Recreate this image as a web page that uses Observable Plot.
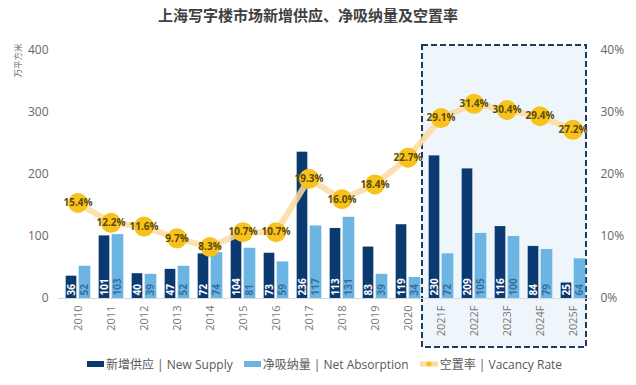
<!DOCTYPE html>
<html><head><meta charset="utf-8">
<script src="https://cdn.jsdelivr.net/npm/d3@7"></script>
<script src="https://cdn.jsdelivr.net/npm/@observablehq/plot@0.6"></script>
<style>
body{margin:0;background:#fff;font-family:"Open Sans","Noto Sans CJK SC",sans-serif;}
#wrap{position:relative;width:636px;height:385px;overflow:hidden;}
#title{position:absolute;left:0;top:0;width:616px;height:30px;line-height:30px;text-align:center;font-family:"Noto Sans CJK SC",sans-serif;font-weight:bold;font-size:15px;color:#404040;}
#chart{position:absolute;left:0;top:30px;}
#legend{position:absolute;left:87px;top:355px;display:flex;align-items:center;font-size:12px;color:#595959;white-space:nowrap;font-family:"Open Sans","Noto Sans CJK SC",sans-serif;}
#legend .sw{display:inline-block;width:17px;height:6px;margin-right:2px;}
#legend .item{display:flex;align-items:center;margin-right:11px;}
</style></head><body>
<div id="wrap">
<div id="title">上海写字楼市场新增供应、净吸纳量及空置率</div>
<div id="chart"></div>
<div id="legend"></div>
</div>
<script>
const years = ["2010","2011","2012","2013","2014","2015","2016","2017","2018","2019","2020","2021F","2022F","2023F","2024F","2025F"];
const newSupply = [36,101,40,47,72,104,73,236,113,83,119,230,209,116,84,25];
const netAbsorption = [52,103,39,52,74,81,59,117,131,39,34,72,105,100,79,64];
const vacancyRate = [15.4,12.2,11.6,9.7,8.3,10.7,10.7,19.3,16.0,18.4,22.7,29.1,31.4,30.4,29.4,27.2];
const forecastYears = ["2021F","2022F","2023F","2024F","2025F"];
const leftTicks = [0,100,200,300,400];
const rightTicks = [0,10,20,30,40];
const seriesNames = ["新增供应 | New Supply","净吸纳量 | Net Absorption","空置率 | Vacancy Rate"];
const yUnit = "万平方米";

const C_DARK = "#0b3a70", C_LIGHT = "#6cb5e3", C_LINE = "#fbdba0", C_DOT = "#f7c21b";
const data = years.map((y,i)=>({year:y, supply:newSupply[i], absorb:netAbsorption[i], vac:vacancyRate[i]}));
const vs = 10; // 40% maps onto 400

const chart = Plot.plot({
  width: 636, height: 320,
  marginLeft: 58, marginRight: 44, marginTop: 20, marginBottom: 52,
  style: {fontFamily: '"Open Sans","Noto Sans CJK SC",sans-serif', background: "transparent"},
  x: {type: "band", domain: years, padding: 0},
  y: {domain: [0, 400]},
  marks: [
    Plot.axisY(leftTicks, {tickSize: 0, tickPadding: 10, label: null, fontSize: 12, fill: "#666"}),
    Plot.axisY(rightTicks.map(v=>v*vs), {anchor: "right", tickSize: 0, tickPadding: 8, label: null, fontSize: 12, fill: "#666", tickFormat: d => (d/vs) + "%"}),
    Plot.axisX({tickSize: 0, tickRotate: -90, tickPadding: 7, label: null, fontSize: 11, fill: "#777"}),
    Plot.text([yUnit], {frameAnchor: "top-left", dx: -44, dy: 10, rotate: -90, fontSize: 8.5, fill: "#666", textAnchor: "middle"}),
    Plot.ruleY([0], {stroke: "#d9d9d9"}),
    Plot.barY(data, {x: "year", y: "supply", fill: C_DARK, insetLeft: 4.67, insetRight: 17.67}),
    Plot.barY(data, {x: "year", y: "absorb", fill: C_LIGHT, insetLeft: 17.67, insetRight: 3.67}),
    Plot.text(data, {x: "year", y: 0, text: d => String(d.supply), rotate: -90, textAnchor: "start", dx: -6.5, dy: -3, fill: "white", fontWeight: "bold", fontSize: 10}),
    Plot.text(data, {x: "year", y: 0, text: d => String(d.absorb), rotate: -90, textAnchor: "start", dx: 7, dy: -3, fill: "#3a6e9c", fontWeight: "bold", fontSize: 10}),
    Plot.line(data, {x: "year", y: d => d.vac*vs, stroke: C_LINE, strokeWidth: 6, strokeOpacity: 0.85}),
    Plot.dot(data, {x: "year", y: d => d.vac*vs, r: 10, fill: C_DOT, stroke: "none"}),
    Plot.text(data, {x: "year", y: d => d.vac*vs, text: d => d.vac.toFixed(1) + "%", fill: "#5c4a08", fontWeight: "bold", fontSize: 10})
  ]
});
document.getElementById("chart").appendChild(chart);

// forecast box behind marks, positioned with the plot's x scale
const xs = chart.scale("x");
const bw = xs.bandwidth;
const x0 = xs.apply(forecastYears[0]) - 2;
const x1 = xs.apply(forecastYears[forecastYears.length-1]) + bw - 3;
const firstG = chart.querySelector("g");
const box = document.createElementNS("http://www.w3.org/2000/svg", "rect");
chart.insertBefore(box, firstG);
d3.select(box).attr("x", x0).attr("y", 15).attr("width", x1 - x0).attr("height", 302)
  .attr("fill", "#eff6fb").attr("stroke", "#1f3b5a").attr("stroke-width", 2).attr("stroke-dasharray", "6,3");

// legend
const leg = document.getElementById("legend");
const cols = [C_DARK, C_LIGHT, null];
seriesNames.forEach((n,i)=>{
  const it = document.createElement("div"); it.className = "item";
  if (cols[i]) {
    const s = document.createElement("span"); s.className = "sw"; s.style.background = cols[i]; it.appendChild(s);
  } else {
    const s = document.createElementNS("http://www.w3.org/2000/svg","svg");
    s.setAttribute("width", 18); s.setAttribute("height", 8); s.style.marginRight = "2px";
    s.innerHTML = `<line x1="0" y1="4" x2="18" y2="4" stroke="${C_LINE}" stroke-width="5"/><circle cx="9" cy="4" r="2.5" fill="${C_DOT}"/>`;
    it.appendChild(s);
  }
  const t = document.createElement("span"); t.textContent = n; it.appendChild(t);
  leg.appendChild(it);
});
</script>
</body></html>
